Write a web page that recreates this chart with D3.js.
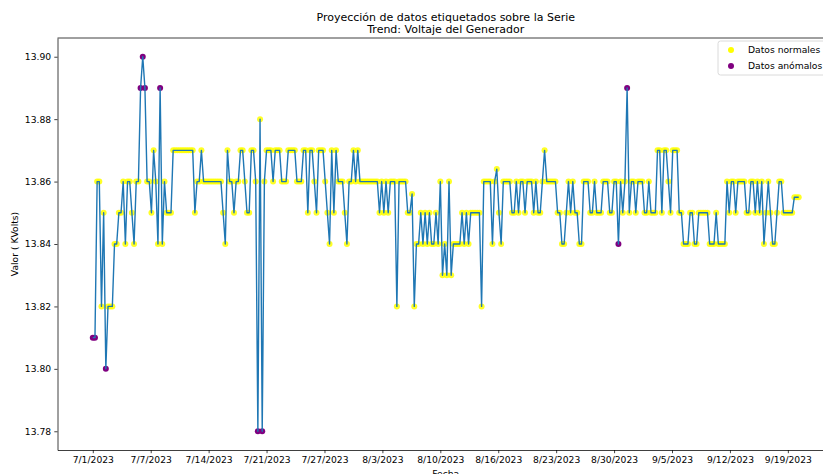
<!DOCTYPE html>
<html>
<head>
<meta charset="utf-8">
<script src="https://cdn.jsdelivr.net/npm/d3@7/dist/d3.min.js"></script>
<style>
  body { margin: 0; background: #fff; }
  svg { display: block; font-family: "DejaVu Sans", sans-serif; }
</style>
</head>
<body>
<script>
// readings every 6 hours, starting 7/1/2023 00:00
var startDate = new Date(2023, 6, 1);
var stepHours = 6;

var values = [
  13.81, 13.81, 13.86, 13.86, 13.82,
  13.85, 13.80, 13.82, 13.82, 13.82,
  13.84, 13.84, 13.85, 13.85, 13.86,
  13.84, 13.86, 13.86, 13.85, 13.84,
  13.86, 13.86, 13.89, 13.90, 13.89,
  13.86, 13.86, 13.85, 13.87, 13.86,
  13.84, 13.89, 13.84, 13.86, 13.85,
  13.85, 13.85, 13.87, 13.87, 13.87,
  13.87, 13.87, 13.87, 13.87, 13.87,
  13.87, 13.87, 13.85, 13.86, 13.86,
  13.87, 13.86, 13.86, 13.86, 13.86,
  13.86, 13.86, 13.86, 13.86, 13.86,
  13.85, 13.84, 13.87, 13.86, 13.86,
  13.85, 13.86, 13.86, 13.87, 13.87,
  13.86, 13.85, 13.85, 13.87, 13.87,
  13.86, 13.78, 13.88, 13.78, 13.86,
  13.87, 13.87, 13.87, 13.86, 13.87,
  13.87, 13.87, 13.86, 13.86, 13.86,
  13.87, 13.87, 13.87, 13.87, 13.86,
  13.86, 13.86, 13.87, 13.87, 13.85,
  13.87, 13.87, 13.86, 13.85, 13.87,
  13.87, 13.87, 13.86, 13.85, 13.84,
  13.87, 13.85, 13.87, 13.86, 13.86,
  13.86, 13.85, 13.84, 13.86, 13.86,
  13.87, 13.86, 13.87, 13.86, 13.86,
  13.86, 13.86, 13.86, 13.86, 13.86,
  13.86, 13.86, 13.85, 13.86, 13.85,
  13.86, 13.85, 13.86, 13.86, 13.86,
  13.82, 13.86, 13.86, 13.86, 13.86,
  13.85, 13.85, 13.856, 13.82, 13.84,
  13.84, 13.85, 13.84, 13.85, 13.84,
  13.85, 13.84, 13.84, 13.85, 13.84,
  13.86, 13.83, 13.84, 13.83, 13.86,
  13.83, 13.84, 13.84, 13.84, 13.84,
  13.85, 13.84, 13.85, 13.84, 13.85,
  13.85, 13.85, 13.85, 13.85, 13.82,
  13.86, 13.86, 13.86, 13.86, 13.84,
  13.86, 13.864, 13.85, 13.84, 13.86,
  13.86, 13.86, 13.86, 13.85, 13.85,
  13.86, 13.85, 13.86, 13.86, 13.85,
  13.86, 13.86, 13.86, 13.85, 13.86,
  13.85, 13.85, 13.86, 13.87, 13.86,
  13.86, 13.86, 13.86, 13.86, 13.85,
  13.85, 13.84, 13.84, 13.85, 13.86,
  13.85, 13.86, 13.85, 13.85, 13.84,
  13.84, 13.86, 13.86, 13.86, 13.85,
  13.85, 13.86, 13.85, 13.85, 13.85,
  13.86, 13.86, 13.86, 13.85, 13.85,
  13.86, 13.86, 13.84, 13.86, 13.85,
  13.86, 13.89, 13.85, 13.86, 13.86,
  13.85, 13.86, 13.86, 13.86, 13.85,
  13.85, 13.86, 13.85, 13.85, 13.85,
  13.87, 13.87, 13.85, 13.87, 13.87,
  13.86, 13.85, 13.87, 13.87, 13.87,
  13.85, 13.85, 13.84, 13.84, 13.84,
  13.85, 13.85, 13.84, 13.84, 13.85,
  13.85, 13.85, 13.85, 13.85, 13.84,
  13.84, 13.84, 13.85, 13.84, 13.84,
  13.84, 13.84, 13.86, 13.85, 13.86,
  13.86, 13.85, 13.86, 13.86, 13.86,
  13.86, 13.85, 13.85, 13.86, 13.86,
  13.85, 13.86, 13.85, 13.86, 13.84,
  13.85, 13.86, 13.85, 13.84, 13.84,
  13.85, 13.86, 13.86, 13.85, 13.85,
  13.85, 13.85, 13.85, 13.855, 13.855,
  13.855
];

// positions (in the series above) labelled as anomalous
var anomalyIdx = [0, 1, 6, 22, 23, 24, 31, 76, 78, 242, 246];

var tickLabels = ["7/1/2023", "7/7/2023", "7/14/2023", "7/21/2023", "7/27/2023",
                  "8/3/2023", "8/10/2023", "8/16/2023", "8/23/2023", "8/30/2023",
                  "9/5/2023", "9/12/2023", "9/19/2023"];
var yTicks = [13.78, 13.80, 13.82, 13.84, 13.86, 13.88, 13.90];

var legendItems = [
  {label: "Datos normales", color: "#ffff00"},
  {label: "Datos anómalos", color: "#800080"}
];

var width = 823,
    height = 474;

var plot = {left: 57.5, right: 834, top: 38, bottom: 450};

var data = values.map(function(v, i) {
  return {
    date: d3.timeHour.offset(startDate, i * stepHours),
    value: v,
    anomaly: anomalyIdx.indexOf(i) >= 0
  };
});

var svg = d3.select("body").append("svg")
    .attr("width", width)
    .attr("height", height);

// matplotlib style 5% margins
var ext = d3.extent(data, function(d) { return d.date; });
var pad = (ext[1] - ext[0]) * 0.05;
var x = d3.scaleTime()
    .domain([new Date(+ext[0] - pad), new Date(+ext[1] + pad)])
    .range([plot.left, plot.right]);

var yExt = d3.extent(data, function(d) { return d.value; });
var yPad = (yExt[1] - yExt[0]) * 0.05;
var y = d3.scaleLinear()
    .domain([yExt[0] - yPad, yExt[1] + yPad])
    .range([plot.bottom, plot.top]);

// x ticks spread evenly between first and last label
var parse = d3.timeParse("%m/%d/%Y");
var t0 = parse(tickLabels[0]), t1 = parse(tickLabels[tickLabels.length - 1]);
var xTickVals = tickLabels.map(function(l, k) {
  return new Date(+t0 + (t1 - t0) * k / (tickLabels.length - 1));
});

var g = svg.append("g");

// markers
g.selectAll("circle.normal")
  .data(data.filter(function(d) { return !d.anomaly; }))
  .enter()
  .append("circle")
  .attr("class", "normal")
  .attr("cx", function(d) { return x(d.date); })
  .attr("cy", function(d) { return y(d.value); })
  .attr("r", 3)
  .attr("fill", legendItems[0].color)
  .attr("fill-opacity", 0.85);

g.selectAll("circle.anom")
  .data(data.filter(function(d) { return d.anomaly; }))
  .enter()
  .append("circle")
  .attr("class", "anom")
  .attr("cx", function(d) { return x(d.date); })
  .attr("cy", function(d) { return y(d.value); })
  .attr("r", 3)
  .attr("fill", legendItems[1].color);

var line = d3.line()
    .x(function(d) { return x(d.date); })
    .y(function(d) { return y(d.value); });

g.append("path")
  .datum(data)
  .attr("d", line)
  .attr("fill", "none")
  .attr("stroke", "#1f77b4")
  .attr("stroke-width", 1.4)
  .attr("stroke-linejoin", "round");

// axes
var xAxis = d3.axisBottom(x)
    .tickValues(xTickVals)
    .tickFormat(function(d, i) { return tickLabels[i]; })
    .tickSizeInner(3.2)
    .tickSizeOuter(0)
    .tickPadding(3.2);

var yAxis = d3.axisLeft(y)
    .tickValues(yTicks)
    .tickFormat(d3.format(".2f"))
    .tickSizeInner(3.2)
    .tickSizeOuter(0)
    .tickPadding(3.2);

var gx = svg.append("g")
    .attr("transform", "translate(0," + plot.bottom + ")")
    .call(xAxis);
var gy = svg.append("g")
    .attr("transform", "translate(" + plot.left + ",0)")
    .call(yAxis);

[gx, gy].forEach(function(a) {
  a.selectAll("text").attr("font-size", 9.2).attr("fill", "#000")
    .attr("font-family", "DejaVu Sans");
  a.selectAll("line").attr("stroke", "#000").attr("stroke-width", 0.75);
  a.select(".domain").attr("stroke", "#000").attr("stroke-width", 0.75);
});

// top spine
svg.append("line")
  .attr("x1", plot.left).attr("x2", plot.right)
  .attr("y1", plot.top).attr("y2", plot.top)
  .attr("stroke", "#000").attr("stroke-width", 0.75);

// titles
var cx = (plot.left + plot.right) / 2;
svg.append("text")
  .attr("x", cx).attr("y", 21)
  .attr("text-anchor", "middle")
  .attr("font-size", 11)
  .text("Proyección de datos etiquetados sobre la Serie");
svg.append("text")
  .attr("x", cx).attr("y", 33)
  .attr("text-anchor", "middle")
  .attr("font-size", 11)
  .text("Trend: Voltaje del Generador");

svg.append("text")
  .attr("x", cx).attr("y", 477)
  .attr("text-anchor", "middle")
  .attr("font-size", 9.2)
  .text("Fecha");

svg.append("text")
  .attr("transform", "translate(18," + ((plot.top + plot.bottom) / 2) + ") rotate(-90)")
  .attr("text-anchor", "middle")
  .attr("font-size", 9.2)
  .text("Valor ( KVolts)");

// legend
var legend = svg.append("g")
    .attr("transform", "translate(718,41)");

legend.append("rect")
  .attr("width", 111)
  .attr("height", 34)
  .attr("rx", 2.5)
  .attr("fill", "#fff")
  .attr("fill-opacity", 0.8)
  .attr("stroke", "#d0d0d0")
  .attr("stroke-width", 0.8);

var items = legend.selectAll("g.item")
  .data(legendItems)
  .enter()
  .append("g")
  .attr("class", "item")
  .attr("transform", function(d, i) { return "translate(0," + (9 + i * 16) + ")"; });

items.append("circle")
  .attr("cx", 13)
  .attr("cy", 0)
  .attr("r", 3)
  .attr("fill", function(d) { return d.color; });

items.append("text")
  .attr("x", 30)
  .attr("y", 3.3)
  .attr("font-size", 9.2)
  .text(function(d) { return d.label; });
</script>
</body>
</html>
